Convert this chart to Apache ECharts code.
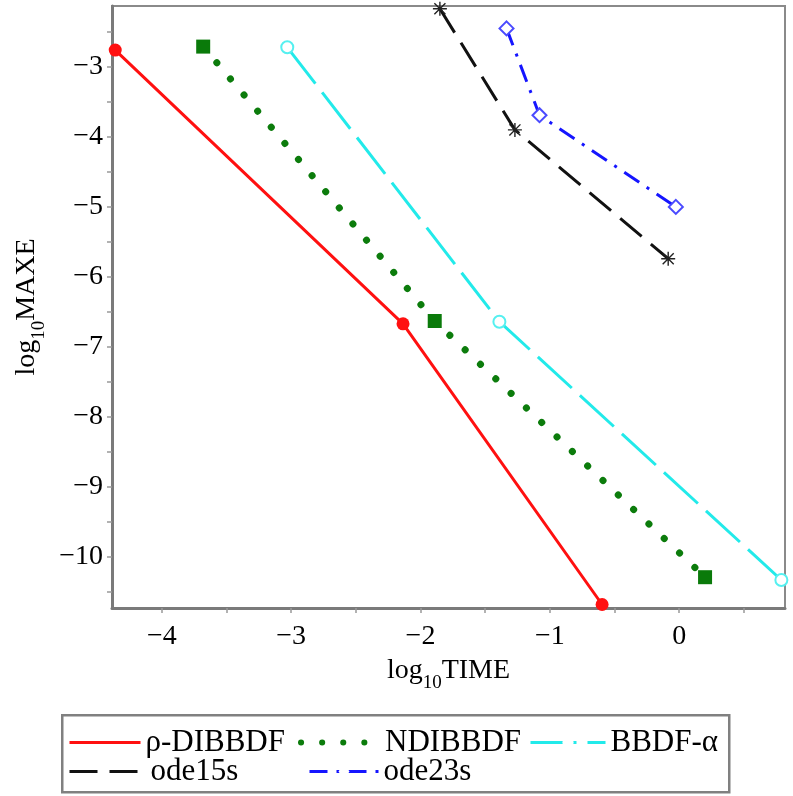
<!DOCTYPE html>
<html>
<head>
<meta charset="utf-8">
<script src="https://cdn.jsdelivr.net/npm/echarts@6/dist/echarts.min.js"></script>
<style>
html,body{margin:0;padding:0;background:#fff;}
#chart{width:793px;height:796px;}
</style>
</head>
<body>
<div id="chart"></div>
<script>
// ---- data (log10 TIME, log10 MAXE) ----
const seriesNames = ['ρ-DIBBDF', 'NDIBBDF', 'BBDF-α', 'ode15s', 'ode23s'];
const rhoX = [-4.36, -2.135, -0.596];
const rhoY = [-2.76, -6.67, -10.68];
const ndX  = [-3.68, -1.89, 0.20];
const ndY  = [-2.71, -6.63, -10.29];
const bbX  = [-3.03, -1.39, 0.79];
const bbY  = [-2.72, -6.64, -10.33];
const o15X = [-1.85, -1.27, -0.085];
const o15Y = [-2.17, -3.90, -5.74];
const o23X = [-1.335, -1.08, -0.026];
const o23Y = [-2.45, -3.69, -5.00];
const xTickLabels = [-4, -3, -2, -1, 0];
const xMinorTicks = [-4, -3.5, -3, -2.5, -2, -1.5, -1, -0.5, 0, 0.5];
const yTickLabels = [-3, -4, -5, -6, -7, -8, -9, -10];
const yMinorTicks = [-2.5, -3, -3.5, -4, -4.5, -5, -5.5, -6, -6.5, -7, -7.5, -8, -8.5, -9, -9.5, -10, -10.5];

const pairs = (xs, ys) => xs.map((x, i) => [x, ys[i]]);
const FONT = '"Liberation Serif", "DejaVu Serif", serif';
const fmt = v => (v < 0 ? '\u2212' : '') + Math.abs(v);
const asterisk = 'path://M9,0L11,0L11,20L9,20Z M0,9L20,9L20,11L0,11Z M1.4,2.8L2.8,1.4L18.6,17.2L17.2,18.6Z M17.2,1.4L18.6,2.8L2.8,18.6L1.4,17.2Z';

const rich = {
  n: {fontFamily: FONT, fontSize: 28, color: '#000', lineHeight: 30},
  s: {fontFamily: FONT, fontSize: 19, color: '#000', lineHeight: 20, padding: [18, 0, 0, 0], verticalAlign: 'top'}
};

const chart = echarts.init(document.getElementById('chart'), null, {renderer: 'canvas'});

function legendAt(name, left, top, w, lw) {
  return {
    data: [name], left: left, top: top, orient: 'horizontal', padding: 0,
    itemWidth: w, itemHeight: 14, selectedMode: false,
    itemStyle: {color: 'transparent', borderColor: 'transparent', borderWidth: 0},
    lineStyle: {width: lw},
    textStyle: {fontFamily: FONT, fontSize: 31, color: '#000'}
  };
}

const option = {
  backgroundColor: '#fff',
  animation: false,
  grid: {left: 112, top: 6, width: 673, height: 602, show: true, borderColor: '#8a8a8a', borderWidth: 2, backgroundColor: 'transparent'},
  xAxis: {
    type: 'value', min: -4.385, max: 0.818,
    name: '{n|log}{s|10}{n|TIME}', nameLocation: 'middle', nameGap: 47,
    nameTextStyle: {rich: rich},
    axisLine: {show: true, onZero: false, lineStyle: {color: '#7a7a7a', width: 3}},
    axisTick: {show: true, customValues: xMinorTicks, length: 5, lineStyle: {color: '#999', width: 1.5}},
    axisLabel: {customValues: xTickLabels, formatter: fmt, margin: 15, fontFamily: FONT, fontSize: 28, color: '#000'},
    splitLine: {show: false}
  },
  yAxis: {
    type: 'value', min: -10.73, max: -2.13,
    name: '{n|log}{s|10}{n|MAXE}', nameLocation: 'middle', nameGap: 60,
    nameTextStyle: {rich: rich},
    axisLine: {show: true, onZero: false, lineStyle: {color: '#7a7a7a', width: 3}},
    axisTick: {show: true, customValues: yMinorTicks, length: 5, lineStyle: {color: '#999', width: 1.5}},
    axisLabel: {customValues: yTickLabels, formatter: fmt, margin: 9, fontFamily: FONT, fontSize: 28, color: '#000'},
    splitLine: {show: false}
  },
  legend: [
    legendAt(seriesNames[0], 68, 727, 71, 3),
    legendAt(seriesNames[1], 298, 727, 79, 6),
    legendAt(seriesNames[2], 529, 727, 75, 3),
    legendAt(seriesNames[3], 68, 756, 76, 3),
    legendAt(seriesNames[4], 308, 756, 69, 3)
  ],
  graphic: [{
    type: 'rect', left: 61, top: 714, silent: true,
    shape: {width: 667, height: 77},
    style: {fill: 'transparent', stroke: '#808080', lineWidth: 2.5}
  }],
  series: [
    {
      name: seriesNames[0], type: 'line', data: pairs(rhoX, rhoY), clip: false,
      symbol: 'circle', symbolSize: 13, showAllSymbol: true,
      lineStyle: {color: '#ff1010', width: 3},
      itemStyle: {color: '#ff1010'}
    },
    {
      name: seriesNames[1], type: 'line', data: pairs(ndX, ndY), clip: false,
      symbol: 'rect', symbolSize: 14, showAllSymbol: true,
      lineStyle: {color: '#0c7c0c', width: 7, type: [0.1, 21], cap: 'round'},
      itemStyle: {color: '#0a7a0a'}
    },
    {
      name: seriesNames[2], type: 'line', data: pairs(bbX, bbY), clip: false,
      symbol: 'emptyCircle', symbolSize: 12, showAllSymbol: true,
      lineStyle: {color: '#22eaea', width: 3, type: [46, 11]},
      itemStyle: {color: '#55f0f0', borderWidth: 2}
    },
    {
      name: seriesNames[3], type: 'line', data: pairs(o15X, o15Y), clip: false,
      symbol: asterisk, symbolSize: 14, showAllSymbol: true,
      lineStyle: {color: '#111', width: 3, type: [28, 12]},
      itemStyle: {color: '#222'}
    },
    {
      name: seriesNames[4], type: 'line', data: pairs(o23X, o23Y), clip: false,
      symbol: 'emptyDiamond', symbolSize: 14, showAllSymbol: true,
      lineStyle: {color: '#1515ff', width: 3, type: [18, 9, 3, 9]},
      itemStyle: {color: '#4a4aff', borderWidth: 2}
    }
  ]
};
chart.setOption(option);
</script>
</body>
</html>
